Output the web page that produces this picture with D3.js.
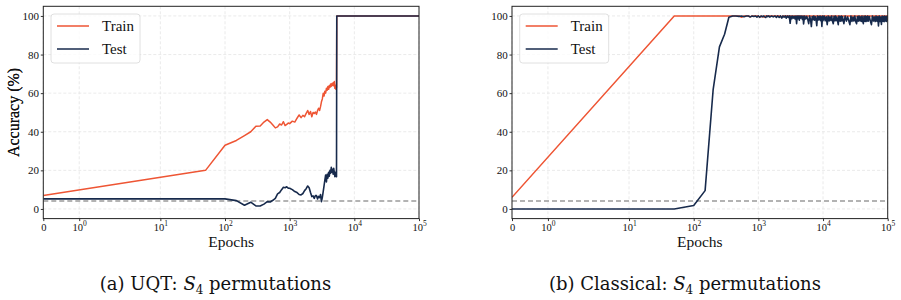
<!DOCTYPE html>
<html>
<head>
<meta charset="utf-8">
<script src="https://cdn.jsdelivr.net/npm/d3@7"></script>
<style>
body { margin: 0; background: #fff; }
svg { display: block; }
</style>
</head>
<body>
<div id="chart"></div>
<script>
// ---- data ----
var epochsA = [0, 50, 100, 150, 200, 250, 300, 350, 400, 450, 500, 550, 600, 650, 700, 750, 800, 850, 900, 950,
    1000, 1100, 1200, 1300, 1400, 1500, 1600, 1700, 1800, 1900, 2000, 2100, 2200, 2300, 2400, 2500, 2600, 2700,
    2800, 2900, 3000, 3100, 3200, 3300, 3400, 3500, 3600, 3700, 3800, 3900, 4000, 4100, 4200, 4300, 4400, 4500,
    4600, 4700, 4800, 4900, 5000, 5100, 5200, 5300, 5350, 5400, 100000];
var trainA = [7, 20, 33, 35.5, 38, 40, 42.8, 43, 45, 46.3, 45, 43.5, 42, 42.5, 44, 43.5, 45.2, 43.2, 43.8, 44.5,
    44.2, 45.5, 45, 47, 48.7, 47.3, 48.5, 47.8, 49.5, 51, 49, 50.5, 47.8, 50, 49.5, 50.2, 49, 51,
    52.2, 51, 53, 55.5, 57, 59.9, 58.5, 61, 60, 62.5, 61.5, 63.5, 62, 64, 63, 64.8, 63.5, 65,
    64, 65.4, 63.8, 66, 62.5, 64, 62, 63, 100, 100, 100];
var testA = [5.2, 5.2, 5.2, 4.3, 1.9, 3.5, 1.6, 1.5, 2.5, 3.8, 3.6, 4.5, 5.5, 7.8, 8.5, 10, 11.2, 11, 11.5, 10.8,
    10.7, 10, 9, 8.5, 7.5, 7.3, 8, 9.5, 10.5, 11.9, 11, 8.5, 6.4, 6.8, 5.5, 7, 6.9, 5.2,
    6.5, 5.9, 7.5, 3.8, 6, 9, 12, 15, 17.6, 14, 18, 16, 19, 17, 20, 18.5, 21.6, 19,
    20.5, 18, 21, 19, 16.7, 19, 17, 16.7, 100, 100, 100];

var epochsTrainB = [0, 50, 500, 550, 600, 700, 750, 800, 1000, 1050, 1100, 1200, 1250, 1300, 2200, 2300, 2400, 100000];
var trainB = [6, 100, 100, 99.3, 100, 100, 99.5, 100, 100, 99.3, 100, 99.4, 100, 100, 100, 99.4, 100, 100];

var epochsTestB = [0, 50, 100, 150, 200, 250, 300, 350, 400, 450, 500, 550, 600, 650, 700, 750, 800, 850, 900, 950,
    1000, 1050, 1100, 1150, 1200, 1250, 1300, 1350, 1400, 1450, 1500, 1600, 1700, 1800, 1900,
    2000, 2100, 2200, 2300, 2400, 2500, 2600, 2700, 2800, 2900, 3000, 3100, 3200, 3300, 3400,
    3500, 3600, 3700, 3800, 3900, 4000, 4100, 4200, 4300, 4400, 4500, 4600, 4700, 4800, 4900,
    5000, 5200, 5400, 5600, 5800, 6000, 6200, 6400, 6600, 6800, 7000, 7200, 7400, 7600, 7800,
    8000, 8200, 8400, 8600, 8800, 9000, 9200, 9400, 9600, 9800,
    10000, 10400, 10800, 11200, 11600, 12000, 12400, 12800, 13200, 13600, 14000, 14400, 14800,
    15200, 15600, 16000, 16400, 16800, 17200, 17600, 18000, 18400, 18800, 19200, 19600,
    20000, 21000, 22000, 23000, 24000, 25000, 26000, 27000, 28000, 29000, 30000, 31000, 32000,
    33000, 34000, 35000, 36000, 37000, 38000, 39000, 40000, 41000, 42000, 43000, 44000, 45000,
    46000, 47000, 48000, 49000,
    50000, 52000, 54000, 56000, 58000, 60000, 62000, 64000, 66000, 68000, 70000, 72000, 74000,
    76000, 78000, 80000, 82000, 84000, 86000, 88000, 90000, 92000, 94000, 96000, 98000, 100000];
var testB = [0, 0, 1.8, 9.5, 62, 84, 90.5, 99.3, 100, 100, 99.8, 100, 99.6, 100, 100, 99.5, 100, 99.7, 100, 99.4,
    100, 99.3, 100, 99.6, 100, 99.5, 99.2, 100, 99.6, 100, 99.4, 100, 99.5, 100, 99.3,
    100, 99.2, 100, 98.9, 100, 99.4, 100, 98.8, 100, 99.3, 100, 96.2, 100, 98.6, 100,
    98.9, 99.8, 98.4, 100, 96.0, 100, 98.6, 100, 97.8, 100, 98.9, 100, 99.0, 98.2, 100,
    95.9, 100, 98.4, 99.8, 98.2, 96.0, 100, 98.3, 94.5, 99.7, 98.0, 100, 97.8, 99.6, 98.1,
    95.0, 100, 97.9, 99.7, 98.0, 100, 97.6, 99.5, 94.5, 100,
    97.6, 100, 97.5, 99.6, 95.5, 100, 97.4, 99.5, 97.7, 100, 97.3, 96.0, 99.8,
    97.5, 100, 97.6, 99.4, 97.2, 95.5, 100, 97.4, 99.6, 97.3, 100, 97.5,
    99.5, 96.0, 100, 97.3, 99.6, 97.5, 95.5, 100, 97.2, 99.4, 97.4, 100, 97.1,
    96.0, 99.7, 97.3, 100, 97.5, 99.5, 97.2, 100, 97.4, 96.0, 99.8, 97.3, 100,
    97.1, 99.6, 97.4, 100,
    97.3, 99.7, 97.2, 95.5, 100, 97.4, 99.5, 97.1, 100, 97.3, 99.6, 94.8, 100,
    97.2, 99.4, 95.6, 100, 97.3, 99.7, 97.0, 100, 97.4, 99.5, 97.2, 100, 97.3];

var xTicks = [0, 1, 10, 100, 1000, 10000, 100000];
var yTicks = [0, 20, 40, 60, 80, 100];
var chanceLevel = 100 / 24;
var seriesNames = ["Train", "Test"];
var captions = [["(a) UQT: ", " permutations"], ["(b) Classical: ", " permutations"]];

// ---- chart ----
var colors = { Train: "#ee5534", Test: "#172a4c" };
var serif = "'Liberation Serif', 'Times New Roman', serif";

// matplotlib style symlog (linthresh 2, linscale 1)
function symlog(e) {
    var lt = 2, adj = 1 / (1 - 1 / 10);
    return e <= lt ? e * adj / lt : adj + Math.log10(e / lt);
}

var svg = d3.select("#chart").append("svg")
    .attr("width", 901).attr("height", 300)
    .attr("xmlns", "http://www.w3.org/2000/svg");

var pw = 375.7, ph = 212.3;

function drawPanel(idx, left, top, train, test, caption) {
    var g = svg.append("g").attr("transform", "translate(" + left + "," + top + ")");

    var x = d3.scaleLinear().domain([0, symlog(100000)]).range([0, pw]);
    var y = d3.scaleLinear().domain([-5, 105]).range([ph, 0]);

    // grid
    g.append("g").selectAll("line.gx").data(xTicks).enter().append("line")
        .attr("x1", function(d) { return x(symlog(d)); }).attr("x2", function(d) { return x(symlog(d)); })
        .attr("y1", 0).attr("y2", ph)
        .attr("stroke", "#e4e4e4").attr("stroke-width", 0.8).attr("stroke-dasharray", "3,2");
    g.append("g").selectAll("line.gy").data(yTicks).enter().append("line")
        .attr("x1", 0).attr("x2", pw)
        .attr("y1", function(d) { return y(d); }).attr("y2", function(d) { return y(d); })
        .attr("stroke", "#e4e4e4").attr("stroke-width", 0.8).attr("stroke-dasharray", "3,2");

    var clipId = "clip" + idx;
    g.append("clipPath").attr("id", clipId).append("rect").attr("width", pw).attr("height", ph);

    var line = d3.line()
        .x(function(d) { return x(symlog(d.e)); })
        .y(function(d) { return y(d.v); });

    var plot = g.append("g").attr("clip-path", "url(#" + clipId + ")");

    // chance level
    plot.append("line")
        .attr("x1", 0).attr("x2", pw)
        .attr("y1", y(chanceLevel)).attr("y2", y(chanceLevel))
        .attr("stroke", "#9b9b9b").attr("stroke-width", 1.5).attr("stroke-dasharray", "5,3");

    plot.append("path").datum(train)
        .attr("d", line).attr("fill", "none")
        .attr("stroke", colors.Train).attr("stroke-width", 1.5).attr("stroke-linejoin", "round");
    plot.append("path").datum(test)
        .attr("d", line).attr("fill", "none")
        .attr("stroke", colors.Test).attr("stroke-width", 1.6).attr("stroke-linejoin", "round");

    // axes
    var yAxis = g.append("g")
        .call(d3.axisLeft(y).tickValues(yTicks).tickSize(2.5).tickPadding(1.8));
    yAxis.select(".domain").remove();
    yAxis.selectAll("text").attr("font-family", serif).attr("font-size", 11).attr("fill", "#111");
    yAxis.selectAll("line").attr("stroke", "#333");

    var xAxis = g.append("g").attr("transform", "translate(0," + ph + ")")
        .call(d3.axisBottom(x).tickValues(xTicks.map(symlog)).tickSize(2.5).tickFormat(""));
    xAxis.select(".domain").remove();
    xAxis.selectAll("line").attr("stroke", "#333");
    xAxis.selectAll(".tick").each(function(d, i) {
        var t = d3.select(this).append("text")
            .attr("y", 12.2).attr("fill", "#111")
            .attr("font-family", serif).attr("font-size", 10.5)
            .attr("text-anchor", "middle");
        if (xTicks[i] === 0) {
            t.text("0");
        } else {
            t.append("tspan").text("10");
            t.append("tspan").attr("dy", -4.5).attr("font-size", 7.5)
                .text(Math.round(Math.log10(xTicks[i])));
        }
    });

    // frame
    g.append("rect").attr("width", pw).attr("height", ph)
        .attr("fill", "none").attr("stroke", "#222").attr("stroke-width", 1);

    // labels
    g.append("text")
        .attr("transform", "translate(" + (19 - left) + "," + (ph / 2) + ") rotate(-90)")
        .attr("text-anchor", "middle")
        .attr("font-family", serif).attr("font-size", 16).attr("fill", "#111")
        .text("Accuracy (%)");
    g.append("text")
        .attr("x", pw / 2).attr("y", 247 - top)
        .attr("text-anchor", "middle")
        .attr("font-family", serif).attr("font-size", 15.5).attr("fill", "#111")
        .text("Epochs");

    // legend
    var lg = g.append("g").attr("transform", "translate(7.7,7.7)");
    lg.append("rect").attr("width", 89).attr("height", 49).attr("rx", 3)
        .attr("fill", "#fff").attr("fill-opacity", 0.8)
        .attr("stroke", "#d8d8d8").attr("stroke-width", 0.8);
    seriesNames.forEach(function(name, i) {
        var ly = 12 + i * 23;
        lg.append("line").attr("x1", 6).attr("x2", 38).attr("y1", ly).attr("y2", ly)
            .attr("stroke", colors[name]).attr("stroke-width", 1.5);
        lg.append("text").attr("x", 51).attr("y", ly + 5.3)
            .attr("font-family", serif).attr("font-size", 15).attr("fill", "#111")
            .text(name);
    });

    // caption
    var cap = svg.append("text")
        .attr("x", idx === 0 ? 215.5 : 685).attr("y", 290)
        .attr("text-anchor", "middle")
        .attr("font-family", "'DejaVu Serif', serif").attr("font-size", 18).attr("fill", "#111");
    cap.append("tspan").text(caption[0]);
    cap.append("tspan").attr("font-style", "italic").text("S");
    cap.append("tspan").attr("dy", 3.5).attr("font-size", 12).text("4");
    cap.append("tspan").attr("dy", -3.5).text(caption[1]);
}

function pairs(es, vs) {
    return es.map(function(e, i) { return { e: e, v: vs[i] }; });
}

drawPanel(0, 43.3, 6.3, pairs(epochsA, trainA), pairs(epochsA, testA), captions[0]);
drawPanel(1, 512, 6.3, pairs(epochsTrainB, trainB), pairs(epochsTestB, testB), captions[1]);
</script>
</body>
</html>
